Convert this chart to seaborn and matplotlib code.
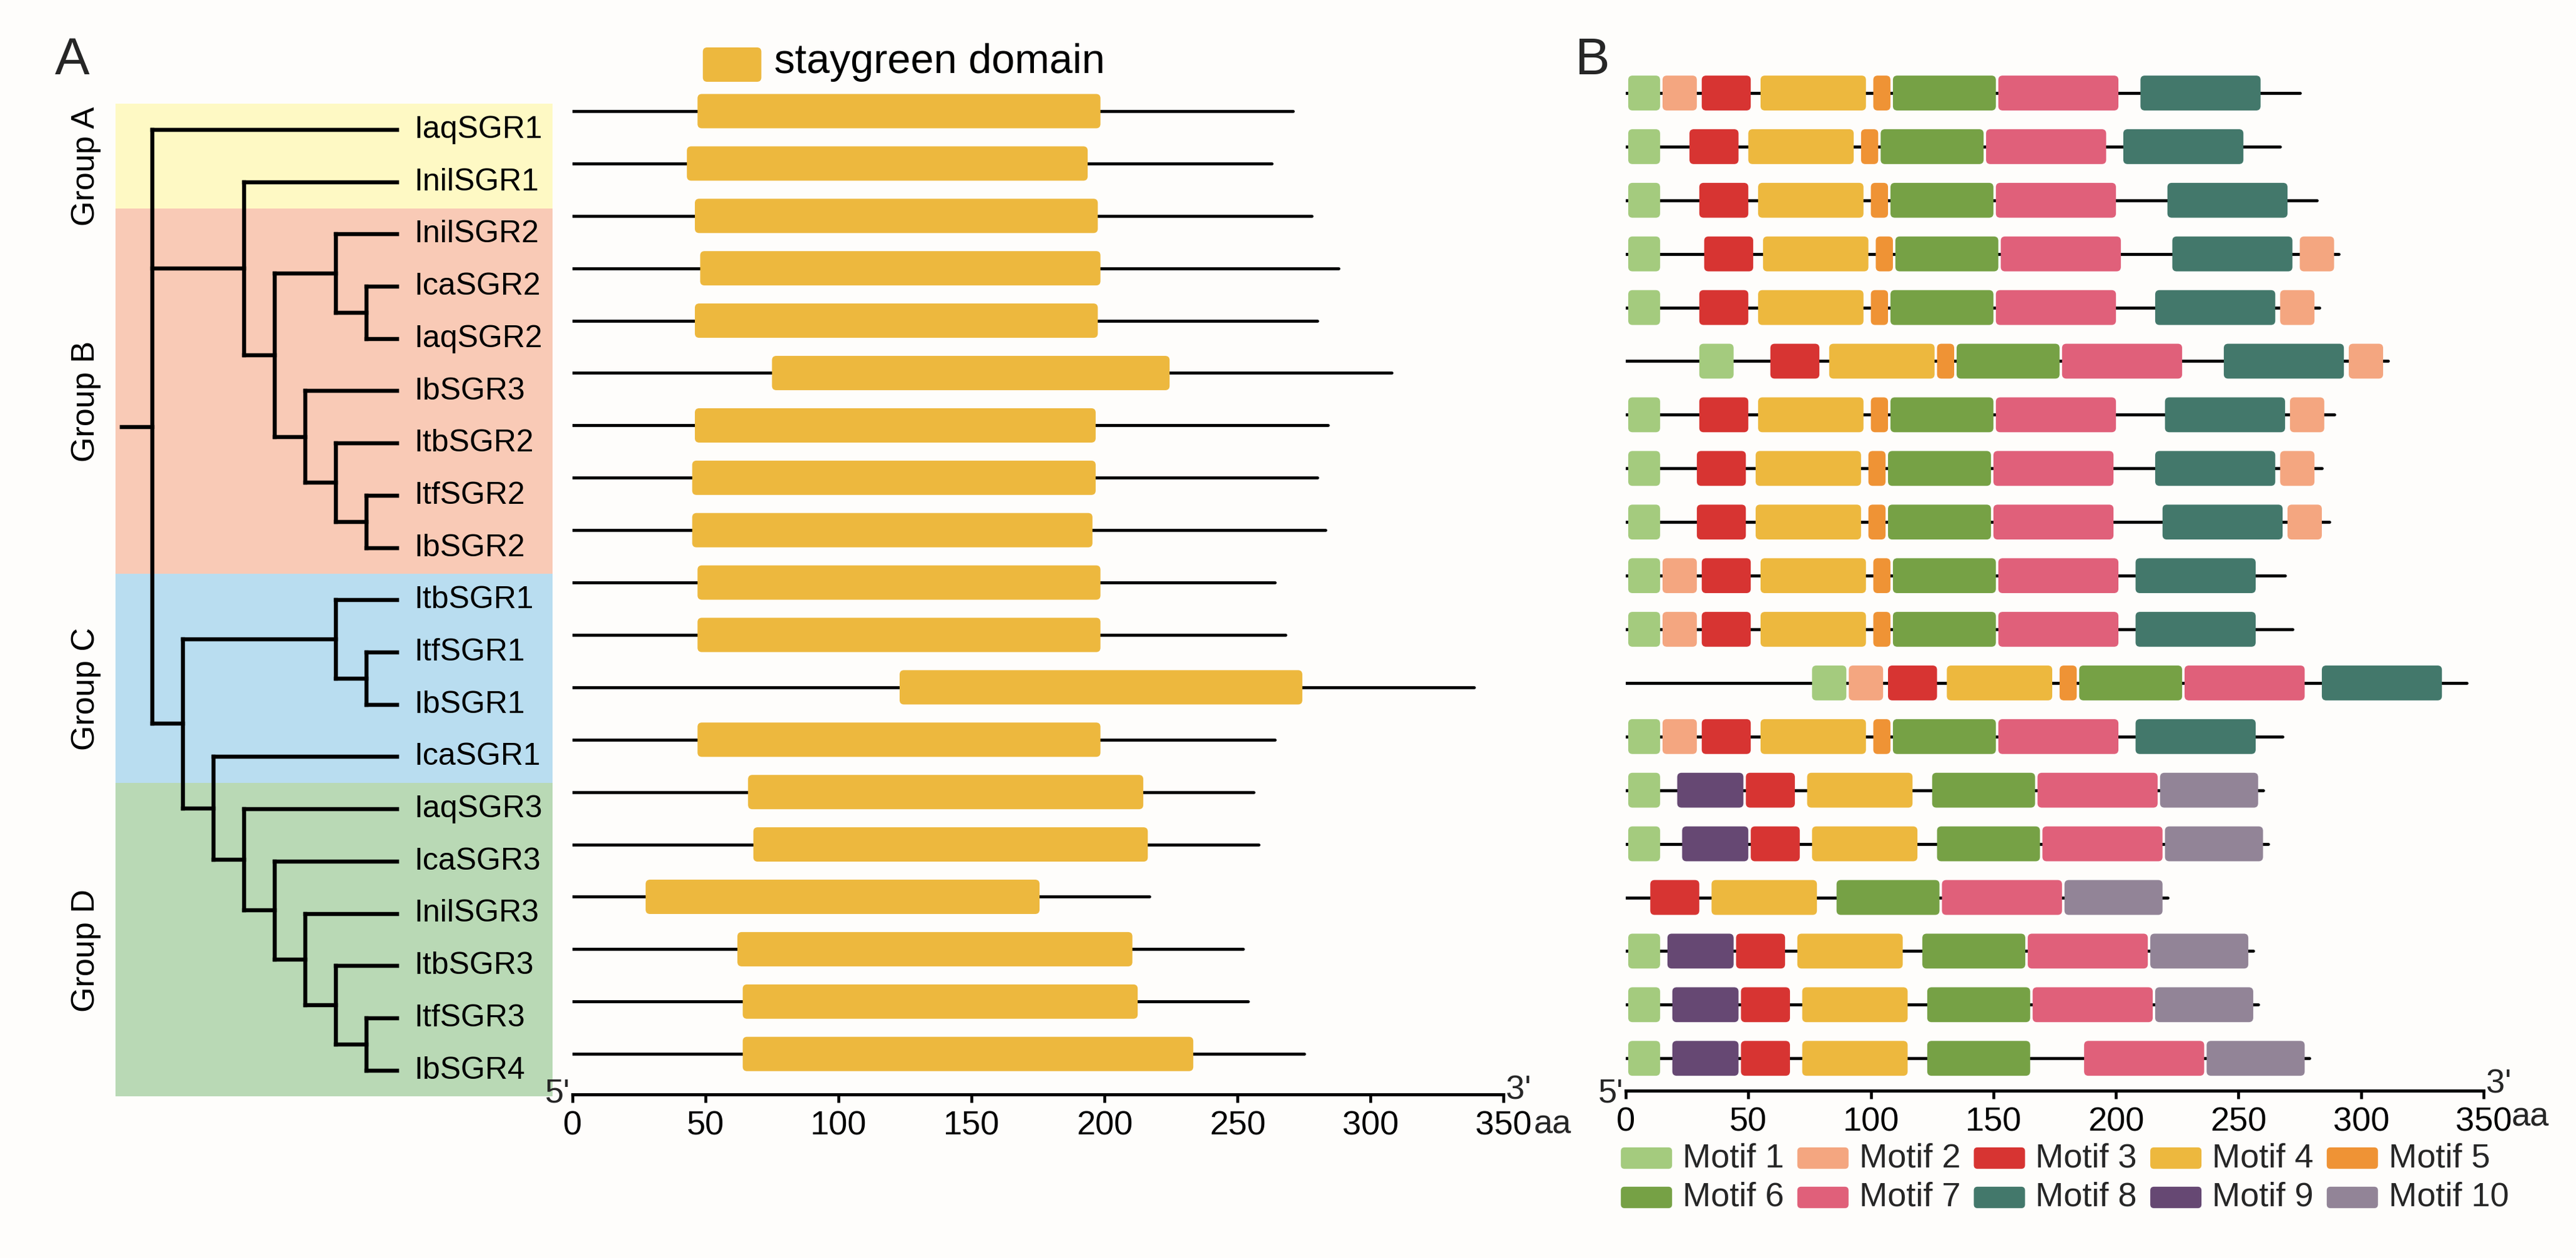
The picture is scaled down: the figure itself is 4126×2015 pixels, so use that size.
import numpy as np
import pandas as pd
import matplotlib
matplotlib.use("Agg")
import matplotlib.pyplot as plt
import seaborn as sns
from matplotlib.patches import FancyBboxPatch, Rectangle

# ---------------- data ----------------
genes = ["IaqSGR1", "InilSGR1", "InilSGR2", "IcaSGR2", "IaqSGR2", "IbSGR3", "ItbSGR2",
         "ItfSGR2", "IbSGR2", "ItbSGR1", "ItfSGR1", "IbSGR1", "IcaSGR1", "IaqSGR3",
         "IcaSGR3", "InilSGR3", "ItbSGR3", "ItfSGR3", "IbSGR4"]

# cladogram topology (nested tuples of gene names)
tree = ("IaqSGR1",
        ("InilSGR1",
         (("InilSGR2", ("IcaSGR2", "IaqSGR2")),
          ("IbSGR3", ("ItbSGR2", ("ItfSGR2", "IbSGR2"))))),
        (("ItbSGR1", ("ItfSGR1", "IbSGR1")),
         ("IcaSGR1", ("IaqSGR3", ("IcaSGR3", ("InilSGR3", ("ItbSGR3", ("ItfSGR3", "IbSGR4"))))))))

group_names = ["Group A", "Group B", "Group C", "Group D"]
group_sizes = [2, 7, 4, 6]
group_colors = ["#FEF9C4", "#F9CAB6", "#B9DDF0", "#B9D9B5"]

# panel A: protein length and staygreen domain (aa)
len_A = [271, 263, 278, 288, 280, 308, 284, 280, 283, 264, 268, 339, 264, 256, 258, 217, 252, 254, 275]
dom_start = [47, 43, 46, 48, 46, 75, 46, 45, 45, 47, 47, 123, 47, 66, 68, 27.5, 62, 64, 64]
dom_end = [198.5, 193.7, 197.5, 198.5, 197.5, 224.5, 196.7, 196.7, 195.5, 198.5, 198.5, 274.4,
           198.5, 214.6, 216.3, 175.6, 210.5, 212.5, 233.4]

# panel B: motif composition (aa)
len_B = [275, 267, 282, 291, 283, 311, 289, 284, 287, 269, 272, 343, 268, 260, 262, 221, 256, 258, 279]
motif_ids = [
    [1, 2, 3, 4, 5, 6, 7, 8],
    [1, 3, 4, 5, 6, 7, 8],
    [1, 3, 4, 5, 6, 7, 8],
    [1, 3, 4, 5, 6, 7, 8, 2],
    [1, 3, 4, 5, 6, 7, 8, 2],
    [1, 3, 4, 5, 6, 7, 8, 2],
    [1, 3, 4, 5, 6, 7, 8, 2],
    [1, 3, 4, 5, 6, 7, 8, 2],
    [1, 3, 4, 5, 6, 7, 8, 2],
    [1, 2, 3, 4, 5, 6, 7, 8],
    [1, 2, 3, 4, 5, 6, 7, 8],
    [1, 2, 3, 4, 5, 6, 7, 8],
    [1, 2, 3, 4, 5, 6, 7, 8],
    [1, 9, 3, 4, 6, 7, 10],
    [1, 9, 3, 4, 6, 7, 10],
    [3, 4, 6, 7, 10],
    [1, 9, 3, 4, 6, 7, 10],
    [1, 9, 3, 4, 6, 7, 10],
    [1, 9, 3, 4, 6, 7, 10],
]
motif_starts = [
    [1, 15, 31, 55, 101, 109, 152, 210],
    [1, 26, 50, 96, 104, 147, 203],
    [1, 30, 54, 100, 108, 151, 221],
    [1, 32, 56, 102, 110, 153, 223, 275],
    [1, 30, 54, 100, 108, 151, 216, 267],
    [30, 59, 83, 127, 135, 178, 244, 295],
    [1, 30, 54, 100, 108, 151, 220, 271],
    [1, 29, 53, 99, 107, 150, 216, 267],
    [1, 29, 53, 99, 107, 150, 219, 270],
    [1, 15, 31, 55, 101, 109, 152, 208],
    [1, 15, 31, 55, 101, 109, 152, 208],
    [76, 91, 107, 131, 177, 185, 228, 284],
    [1, 15, 31, 55, 101, 109, 152, 208],
    [1, 21, 49, 74, 125, 168, 218],
    [1, 23, 51, 76, 127, 170, 220],
    [10, 35, 86, 129, 179],
    [1, 17, 45, 70, 121, 164, 214],
    [1, 19, 47, 72, 123, 166, 216],
    [1, 19, 47, 72, 123, 187, 237],
]
motif_ends = [
    [14, 29, 51, 98, 108, 151, 201, 259],
    [14, 46, 93, 103, 146, 196, 252],
    [14, 50, 97, 107, 150, 200, 270],
    [14, 52, 99, 109, 152, 202, 272, 289],
    [14, 50, 97, 107, 150, 200, 265, 281],
    [44, 79, 126, 134, 177, 227, 293, 309],
    [14, 50, 97, 107, 150, 200, 269, 285],
    [14, 49, 96, 106, 149, 199, 265, 281],
    [14, 49, 96, 106, 149, 199, 268, 284],
    [14, 29, 51, 98, 108, 151, 201, 257],
    [14, 29, 51, 98, 108, 151, 201, 257],
    [90, 105, 127, 174, 184, 227, 277, 333],
    [14, 29, 51, 98, 108, 151, 201, 257],
    [14, 48, 69, 117, 167, 217, 258],
    [14, 50, 71, 119, 169, 219, 260],
    [30, 78, 128, 178, 219],
    [14, 44, 65, 113, 163, 213, 254],
    [14, 46, 67, 115, 165, 215, 256],
    [14, 46, 67, 115, 165, 236, 277],
]
motif_labels = [f"Motif {i}" for i in range(1, 11)]
motif_colors = ["#A4CB7E", "#F4A680", "#D73432", "#EDB83E", "#EF9335",
                "#76A145", "#E0607A", "#43786B", "#664873", "#928497"]
domain_color = "#EDB83E"
x_ticks = [0, 50, 100, 150, 200, 250, 300, 350]

# ---------------- layout ----------------
W, H, DPI = 4126, 2015, 300
sns.set_theme(style="white")
plt.rcParams["font.family"] = ["Liberation Sans", "DejaVu Sans"]
BG = "#fefdfb"
fig = plt.figure(figsize=(W / DPI, H / DPI), dpi=DPI, facecolor=BG)
pal = sns.color_palette(motif_colors)


def px_axes(x0, y0, x1, y1):
    ax = fig.add_axes([x0 / W, 1 - y1 / H, (x1 - x0) / W, (y1 - y0) / H])
    ax.set_facecolor("none")
    return ax


LW_TREE = 1.55
LW_GENE = 1.15

# ---------------- tree ----------------
TX0, TSTEP, TY0, TYSTEP = 244, 49.0, 208, 83.7
axT = px_axes(60, 120, 905, 1800)
axT.set_xlim((60 - TX0) / TSTEP, (905 - TX0) / TSTEP)
axT.set_ylim((1800 - TY0) / TYSTEP, (120 - TY0) / TYSTEP)
axT.axis("off")

edges = np.concatenate([[0], np.cumsum(group_sizes)]) - 0.5
bx0, bx1 = (185 - TX0) / TSTEP, (885 - TX0) / TSTEP
for i, (name, col) in enumerate(zip(group_names, group_colors)):
    axT.add_patch(Rectangle((bx0, edges[i]), bx1 - bx0, edges[i + 1] - edges[i],
                            facecolor=col, edgecolor="none", zorder=0))
    mid = (edges[i] + edges[i + 1]) / 2 + 0.2
    axT.text((137 - TX0) / TSTEP, mid, name, rotation=90, ha="center", va="center",
             fontsize=12.5, color="black")


def height(n):
    return 0 if isinstance(n, str) else 1 + max(height(c) for c in n)


ROOT_H = height(tree)


def draw(n):
    if isinstance(n, str):
        return ROOT_H, genes.index(n)
    kids = [draw(c) for c in n]
    x = ROOT_H - height(n)
    ys = [k[1] for k in kids]
    axT.plot([x, x], [min(ys), max(ys)], color="black", lw=LW_TREE,
             solid_capstyle="projecting", zorder=2)
    for kx, ky in kids:
        axT.plot([x, kx], [ky, ky], color="black", lw=LW_TREE,
                 solid_capstyle="projecting", zorder=2)
    return x, (ys[0] + ys[-1]) / 2


rx, ry = draw(tree)
axT.plot([rx - 1, rx], [ry, ry], color="black", lw=LW_TREE, solid_capstyle="projecting")
for i, g in enumerate(genes):
    axT.text(ROOT_H + 0.55, i, g, ha="left", va="center", fontsize=12, color="black")


def style_axis(ax, axis_row):
    for s in ["left", "right", "top"]:
        ax.spines[s].set_visible(False)
    ax.spines["bottom"].set_visible(True)
    ax.spines["bottom"].set_color("black")
    ax.spines["bottom"].set_linewidth(1.2)
    ax.set_xticks(x_ticks)
    ax.set_xticklabels([str(t) for t in x_ticks])
    ax.set_yticks([])
    ax.tick_params(axis="x", bottom=True, direction="out", length=3, width=1.1,
                   pad=3, labelsize=13, colors="black")
    ax.set_xlabel("")
    ax.set_ylabel("")


def backbone(ax, lengths):
    df = pd.DataFrame({"gene": np.repeat(genes, 2),
                       "x": np.ravel([[0, L] for L in lengths]),
                       "y": np.repeat(np.arange(len(genes)), 2)})
    sns.lineplot(data=df, x="x", y="y", units="gene", estimator=None, sort=False,
                 color="black", lw=LW_GENE, ax=ax, legend=False, zorder=1)


# ---------------- panel A: domains ----------------
AX0, AX1, AY0, ASTEP, AAXIS = 917, 2408, 178, 83.9, 1753
pxA = (AX1 - AX0) / 350
axA = px_axes(AX0, 40, AX1, AAXIS)
backbone(axA, len_A)
axA.set_xlim(0, 350)
a_axis = (AAXIS - AY0) / ASTEP
axA.set_ylim(a_axis, (40 - AY0) / ASTEP)
style_axis(axA, a_axis)
rad = 7
for i in range(len(genes)):
    axA.add_patch(FancyBboxPatch((dom_start[i], i - 0.3275), dom_end[i] - dom_start[i], 0.655,
                                 boxstyle=f"round,pad=0,rounding_size={rad / pxA}",
                                 mutation_aspect=pxA / ASTEP, facecolor=domain_color,
                                 edgecolor="none", zorder=3))
# staygreen legend
axA.add_patch(FancyBboxPatch((49, -1.216), 22, 0.656,
                             boxstyle=f"round,pad=0,rounding_size={rad / pxA}",
                             mutation_aspect=pxA / ASTEP, facecolor=domain_color,
                             edgecolor="none", zorder=3, clip_on=False))
axA.text(75.8, -0.93, "staygreen domain", ha="left", va="center", fontsize=16, color="black")
axA.text(-1, a_axis - 0.02, "5'", ha="right", va="center", fontsize=13, clip_on=False)
axA.text(351, a_axis - 0.08, "3'", ha="left", va="center", fontsize=13, clip_on=False)
axA.text(361.5, a_axis + 0.58, "aa", ha="left", va="center", fontsize=13, clip_on=False)

# ---------------- panel B: motifs ----------------
BX0, BX1, BY0, BSTEP, BAXIS = 2604, 3978, 149, 85.9, 1747
pxB = (BX1 - BX0) / 350
axB = px_axes(BX0, 40, BX1, BAXIS)
backbone(axB, len_B)
axB.set_xlim(0, 350)
b_axis = (BAXIS - BY0) / BSTEP
axB.set_ylim(b_axis, (40 - BY0) / BSTEP)
style_axis(axB, b_axis)
for i in range(len(genes)):
    for m, s, e in zip(motif_ids[i], motif_starts[i], motif_ends[i]):
        axB.add_patch(FancyBboxPatch((s, i - 0.325), e - s, 0.65,
                                     boxstyle=f"round,pad=0,rounding_size={min(rad / pxB, (e - s) / 2.2)}",
                                     mutation_aspect=pxB / BSTEP, facecolor=pal[m - 1],
                                     edgecolor="none", zorder=3))
axB.text(-1, b_axis + 0.05, "5'", ha="right", va="center", fontsize=13, clip_on=False)
axB.text(351, b_axis - 0.12, "3'", ha="left", va="center", fontsize=13, clip_on=False)
axB.text(361.5, b_axis + 0.5, "aa", ha="left", va="center", fontsize=13, clip_on=False)

# motif legend (2 rows x 5 columns)
leg_rows = [(1855 - BY0) / BSTEP, (1918 - BY0) / BSTEP]
for k, (lab, col) in enumerate(zip(motif_labels, pal)):
    r, c = divmod(k, 5)
    x0 = -2 + 72 * c
    axB.add_patch(FancyBboxPatch((x0, leg_rows[r] - 0.2), 20.9, 0.4,
                                 boxstyle=f"round,pad=0,rounding_size={6 / pxB}",
                                 mutation_aspect=pxB / BSTEP, facecolor=col,
                                 edgecolor="none", clip_on=False))
    axB.text(x0 + 25.2, leg_rows[r], lab, ha="left", va="center", fontsize=13, clip_on=False)

# panel letters
fig.text(116 / W, 1 - 97 / H, "A", ha="center", va="center", fontsize=20)
fig.text(2550 / W, 1 - 97 / H, "B", ha="center", va="center", fontsize=20)

fig.savefig("out.png", dpi=DPI, facecolor=BG)
